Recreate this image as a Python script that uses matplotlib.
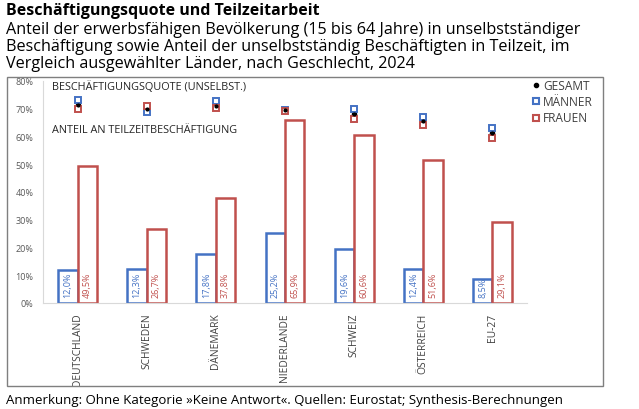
import numpy as np
import matplotlib.pyplot as plt
from matplotlib.patches import Rectangle

plt.rcParams['font.family'] = ['Open Sans', 'DejaVu Sans']
schmal = ['Liberation Sans Narrow', 'Open Sans', 'DejaVu Sans']

laender = ['DEUTSCHLAND', 'SCHWEDEN', 'DÄNEMARK', 'NIEDERLANDE', 'SCHWEIZ', 'ÖSTERREICH', 'EU-27']
teilzeit_m = [12.0, 12.3, 17.8, 25.2, 19.6, 12.4, 8.5]
teilzeit_f = [49.5, 26.7, 37.8, 65.9, 60.6, 51.6, 29.1]
quote_m = [73.1, 68.9, 72.9, 69.5, 69.8, 66.9, 62.9]
quote_f = [70.0, 71.0, 70.3, 69.3, 66.3, 64.2, 59.6]
quote_g = [71.4, 70.0, 71.0, 69.4, 68.0, 65.7, 61.2]

blau = '#4472C4'
rot = '#C0504D'
grau = '#404040'

fig = plt.figure(figsize=(6.39, 4.10), dpi=100)
W, H = 639, 410

# Titel und Untertitel
fig.text(6 / W, 1 - 11 / H, 'Beschäftigungsquote und Teilzeitarbeit', fontsize=11.5,
         fontweight='bold', va='center', ha='left', color='black')
untertitel = ['Anteil der erwerbsfähigen Bevölkerung (15 bis 64 Jahre) in unselbstständiger',
              'Beschäftigung sowie Anteil der unselbstständig Beschäftigten in Teilzeit, im',
              'Vergleich ausgewählter Länder, nach Geschlecht, 2024']
for i, z in enumerate(untertitel):
    fig.text(6 / W, 1 - (30 + i * 17) / H, z, fontsize=11.6, va='center', ha='left', color='black')

# Rahmen um die Grafik
fig.patches.append(Rectangle((7 / W, 1 - 387 / H), 596 / W, 309 / H, transform=fig.transFigure,
                             fill=False, edgecolor='#7f7f7f', linewidth=1))

ax = fig.add_axes([43 / W, 1 - 304 / H, 484 / W, 222 / H])
x = np.arange(len(laender))
b = 0.28

ax.bar(x - b / 2, teilzeit_m, width=b, facecolor='white', edgecolor=blau, linewidth=1.8)
ax.bar(x + b / 2, teilzeit_f, width=b, facecolor='white', edgecolor=rot, linewidth=1.8)

for i in range(len(laender)):
    ax.text(x[i] - b / 2, 2.0, f'{teilzeit_m[i]:.1f}%'.replace('.', ','), rotation=90,
            ha='center', va='bottom', fontsize=6.5, color=blau, family=schmal)
    ax.text(x[i] + b / 2, 2.0, f'{teilzeit_f[i]:.1f}%'.replace('.', ','), rotation=90,
            ha='center', va='bottom', fontsize=6.5, color=rot, family=schmal)

ax.plot(x, quote_g, 'o', markersize=3, color='black', linestyle='none', zorder=3)
ax.plot(x, quote_m, 's', markersize=4.2, markerfacecolor='white', markeredgecolor=blau,
        markeredgewidth=1.4, linestyle='none', zorder=4)
ax.plot(x, quote_f, 's', markersize=4.2, markerfacecolor='white', markeredgecolor=rot,
        markeredgewidth=1.4, linestyle='none', zorder=4)
ax.plot(x, quote_g, 'o', markersize=2, color='black', linestyle='none', zorder=5)

ax.set_xlim(-0.5, len(laender) - 0.5)
ax.set_ylim(0, 80)
ax.set_yticks(range(0, 81, 10))
ax.set_yticklabels([f'{v}%' for v in range(0, 81, 10)], fontsize=6.5, color='#595959')
ax.tick_params(axis='y', pad=7)
ax.set_xticks(x)
ax.set_xticklabels(laender, rotation=90, fontsize=7.4, color=grau, family=schmal)
ax.tick_params(axis='both', length=0)
ax.tick_params(axis='x', pad=7)
for s in ['top', 'right']:
    ax.spines[s].set_visible(False)
ax.spines['left'].set_color('#d9d9d9')
ax.spines['bottom'].set_color('#d9d9d9')

ax.text(0.018, 0.975, 'BESCHÄFTIGUNGSQUOTE (UNSELBST.)', transform=ax.transAxes, fontsize=7.8,
        color='#262626', va='center', ha='left')
ax.text(0.018, 0.78, 'ANTEIL AN TEILZEITBESCHÄFTIGUNG', transform=ax.transAxes, fontsize=7.8,
        color='#262626', va='center', ha='left')

# Legende
leg_y = [86, 102, 119]
leg_txt = ['GESAMT', 'MÄNNER', 'FRAUEN']
fig.lines.append(plt.Line2D([536 / W], [1 - leg_y[0] / H], marker='o', markersize=3, color='black',
                            transform=fig.transFigure))
fig.lines.append(plt.Line2D([536 / W], [1 - leg_y[1] / H], marker='s', markersize=5,
                            markerfacecolor='white', markeredgecolor=blau, markeredgewidth=1.5,
                            transform=fig.transFigure))
fig.lines.append(plt.Line2D([536 / W], [1 - leg_y[2] / H], marker='s', markersize=5,
                            markerfacecolor='white', markeredgecolor=rot, markeredgewidth=1.5,
                            transform=fig.transFigure))
for yy, t in zip(leg_y, leg_txt):
    fig.text(543 / W, 1 - yy / H, t, fontsize=8.6, color=grau, va='center', ha='left')

fig.text(6 / W, 1 - 401 / H,
         'Anmerkung: Ohne Kategorie »Keine Antwort«. Quellen: Eurostat; Synthesis-Berechnungen',
         fontsize=9.5, va='center', ha='left', color='black')

fig.savefig('out.png', dpi=100)
